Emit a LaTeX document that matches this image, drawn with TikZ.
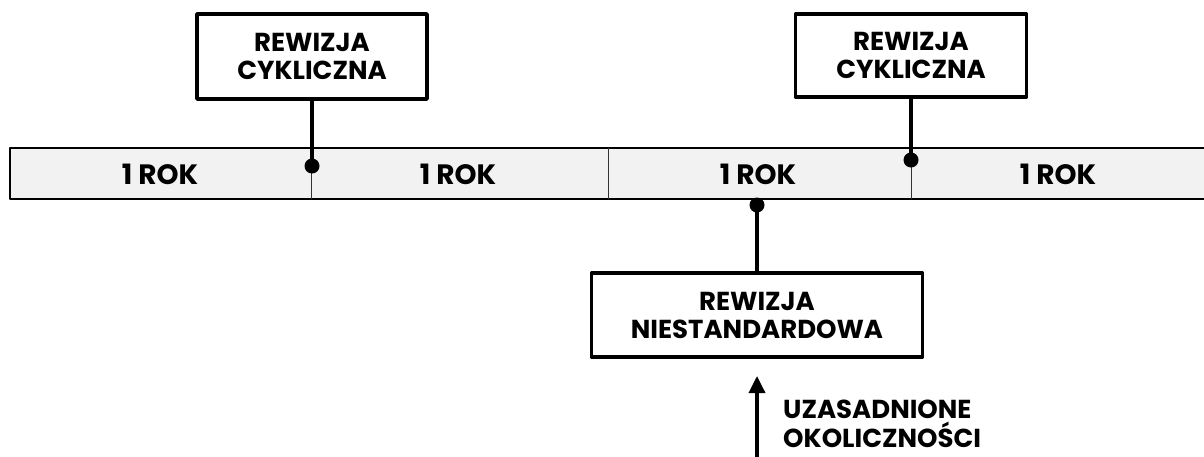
\documentclass[tikz,border=0pt]{standalone}
\usepackage{fontspec}
\setmainfont{Poppins}
\usetikzlibrary{arrows.meta}
\definecolor{pasek}{HTML}{F2F2F2}
\tikzset{
	rok/.style={font=\fontsize{28}{30}\selectfont\bfseries},
	rewizja/.style={draw, line width=3.5pt, align=center, inner sep=0pt, font=\fontsize{26}{28}\selectfont\bfseries},
	kropka/.style={circle, fill, inner sep=0pt, minimum size=15pt}
}
\begin{document}
\begin{tikzpicture}[x=1pt, y=-1pt, line join=round, line cap=round]
				\useasboundingbox (0,0) rectangle (1204,456);
				\draw [fill=pasek, line width=1.5pt, line cap=butt] (1220,148)--(10,148)--(10,199)--(1220,199);
				\foreach \x in {311,608,911} \draw [line width=0.8pt, black!80] (\x,148)--(\x,199);
				\foreach \x/\n in {160/a,458/b,758/c,1058/d} \node[rok] (rok\n) at (\x,174) {1 ROK};
				\node[rewizja, minimum width=230pt, minimum height=85pt] (cykl1) at (312,56.5) {REWIZJA\\CYKLICZNA};
				\node[rewizja, minimum width=231pt, minimum height=83pt] (cykl2) at (911,55.5) {REWIZJA\\CYKLICZNA};
				\node[rewizja, minimum width=331pt, minimum height=84pt] (niest) at (757,315) {REWIZJA\\NIESTANDARDOWA};
				\node[kropka] (k1) at (312,166) {};
				\node[kropka] (k2) at (911,160) {};
				\node[kropka] (k3) at (757,205) {};
				\draw [line width=3.5pt] (cykl1)--(k1);
				\draw [line width=3.5pt] (cykl2)--(k2);
				\draw [line width=3.5pt] (niest)--(k3);
				\coordinate (poczatek) at (757,470);
				\coordinate (grot) at (757,376);
				\draw [-{Triangle[length=17pt,width=16pt]}, line width=3.5pt, line cap=butt] (poczatek)--(grot);
				\node[anchor=west, align=left, inner sep=0pt, font=\fontsize{26}{29}\selectfont\bfseries] (uzas) at (783,424) {UZASADNIONE\\OKOLICZNOŚCI};
			\end{tikzpicture}
\end{document}
